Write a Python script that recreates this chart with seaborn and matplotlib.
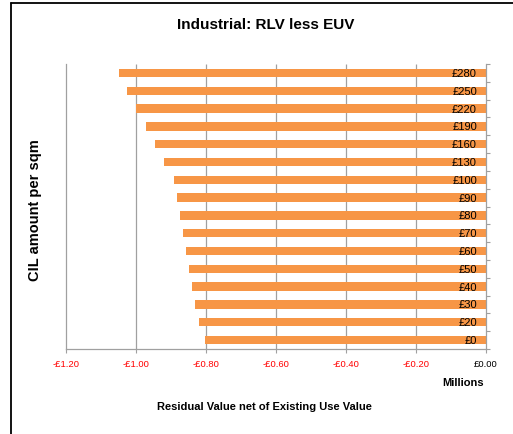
import matplotlib
matplotlib.use("Agg")
import matplotlib.pyplot as plt
from matplotlib.lines import Line2D
from matplotlib.ticker import FixedLocator
import seaborn as sns
import pandas as pd

categories = ['£280', '£250', '£220', '£190', '£160', '£130', '£100', '£90',
              '£80', '£70', '£60', '£50', '£40', '£30', '£20', '£0']
values = [-1.05, -1.026, -1.0, -0.971, -0.946, -0.92, -0.891, -0.883,
          -0.874, -0.866, -0.857, -0.849, -0.84, -0.831, -0.82, -0.803]
xticks = [-1.2, -1.0, -0.8, -0.6, -0.4, -0.2, 0.0]
xtick_labels = ['-£1.20', '-£1.00', '-£0.80', '-£0.60', '-£0.40', '-£0.20', '£0.00']

sns.set_theme(style='white')
plt.rcParams['font.family'] = ['Liberation Sans', 'DejaVu Sans']
plt.rcParams['text.color'] = 'black'

W, H = 513, 434
fig = plt.figure(figsize=(W / 100, H / 100), dpi=100)
fig.patch.set_facecolor('white')
ax = fig.add_axes([66 / W, (H - 349) / H, (486 - 66) / W, (349 - 64) / H])

df = pd.DataFrame({'cat': categories, 'val': values})
sns.barplot(data=df, x='val', y='cat', order=categories, orient='h',
            color='#F79646', saturation=1, width=0.47, ax=ax, zorder=1,
            linewidth=0, edgecolor='none')

grid_col = '#a0a0a0'
ax.set_xlim(-1.2, 0)
ax.set_xticks(xticks)
ax.set_xticklabels(xtick_labels, fontsize=6.8)
for lbl, v in zip(ax.get_xticklabels(), xticks):
    lbl.set_color('red' if v < 0 else 'black')
ax.tick_params(axis='x', direction='out', length=3, width=0.8, color=grid_col, pad=5, bottom=True)
ax.grid(False)
# vertical gridlines behind the bars
ax.vlines(xticks[1:-1], -0.5, len(categories) - 0.5, colors=grid_col, linewidth=0.9, zorder=0.5)
ax.set_axisbelow(False)

# category axis on the right, labels inside
ax.yaxis.tick_right()
ax.tick_params(axis='y', which='major', length=0, pad=-6.5, labelsize=8, labelcolor='black')
for lbl in ax.get_yticklabels():
    lbl.set_horizontalalignment('right')
ax.yaxis.set_minor_locator(FixedLocator([i - 0.5 for i in range(len(categories) + 1)]))
ax.tick_params(axis='y', which='minor', right=True, left=False, length=3,
               width=0.8, color=grid_col, direction='out')
ax.set_ylim(len(categories) - 0.5, -0.5)

for s in ['left', 'bottom', 'right']:
    ax.spines[s].set_visible(True)
    ax.spines[s].set_color(grid_col)
    ax.spines[s].set_linewidth(0.9)
ax.spines['top'].set_visible(False)
ax.set_xlabel('')
ax.set_ylabel('')

fig.text(266 / W, 1 - 25 / H, 'Industrial: RLV less EUV', ha='center', va='center',
         fontsize=11, fontweight='bold', color='black')
fig.text(35 / W, 1 - 210 / H, 'CIL amount per sqm', ha='center', va='center',
         rotation=90, fontsize=10.5, fontweight='bold', color='black')
fig.text(463 / W, 1 - 383 / H, 'Millions', ha='center', va='center',
         fontsize=8, fontweight='bold', color='black')
fig.text(264.5 / W, 1 - 407 / H, 'Residual Value net of Existing Use Value',
         ha='center', va='center', fontsize=8, fontweight='bold', color='black')

# partial frame of the chart area
fig.add_artist(Line2D([10.5 / W, 10.5 / W], [0, 1 - 2.5 / H], color='black', linewidth=1.3,
                      transform=fig.transFigure))
fig.add_artist(Line2D([10.5 / W, 1], [1 - 2.5 / H, 1 - 2.5 / H], color='black', linewidth=1.3,
                      transform=fig.transFigure))

fig.savefig('out.png', dpi=100)
